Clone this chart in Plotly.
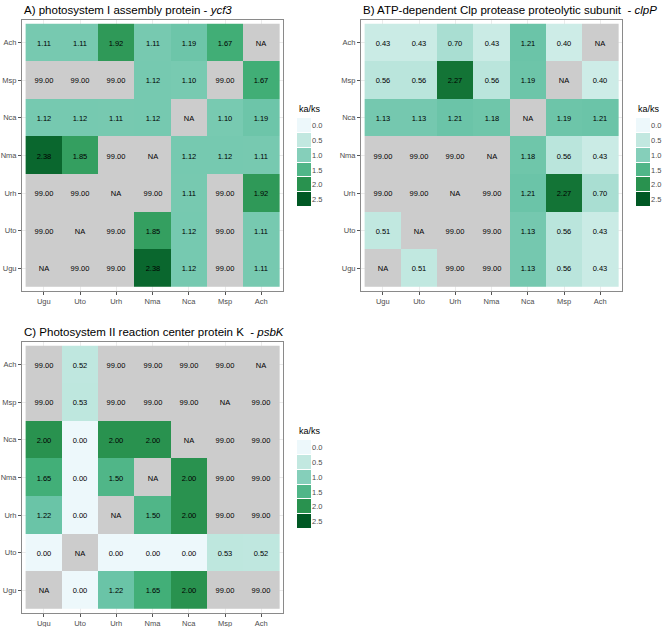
import plotly.graph_objects as go

W, H = 669, 627

species_x = ["Ugu", "Uto", "Urh", "Nma", "Nca", "Msp", "Ach"]
species_y = ["Ugu", "Uto", "Urh", "Nma", "Nca", "Msp", "Ach"]  # bottom -> top
NA = None

# rows listed from top (Ach) to bottom (Ugu), columns Ugu..Ach
ycf3 = [
    [1.11, 1.11, 1.92, 1.11, 1.19, 1.67, NA],
    [99.00, 99.00, 99.00, 1.12, 1.10, 99.00, 1.67],
    [1.12, 1.12, 1.11, 1.12, NA, 1.10, 1.19],
    [2.38, 1.85, 99.00, NA, 1.12, 1.12, 1.11],
    [99.00, 99.00, NA, 99.00, 1.11, 99.00, 1.92],
    [99.00, NA, 99.00, 1.85, 1.12, 99.00, 1.11],
    [NA, 99.00, 99.00, 2.38, 1.12, 99.00, 1.11],
]
clpP = [
    [0.43, 0.43, 0.70, 0.43, 1.21, 0.40, NA],
    [0.56, 0.56, 2.27, 0.56, 1.19, NA, 0.40],
    [1.13, 1.13, 1.21, 1.18, NA, 1.19, 1.21],
    [99.00, 99.00, 99.00, NA, 1.18, 0.56, 0.43],
    [99.00, 99.00, NA, 99.00, 1.21, 2.27, 0.70],
    [0.51, NA, 99.00, 99.00, 1.13, 0.56, 0.43],
    [NA, 0.51, 99.00, 99.00, 1.13, 0.56, 0.43],
]
psbK = [
    [99.00, 0.52, 99.00, 99.00, 99.00, 99.00, NA],
    [99.00, 0.53, 99.00, 99.00, 99.00, NA, 99.00],
    [2.00, 0.00, 2.00, 2.00, NA, 99.00, 99.00],
    [1.65, 0.00, 1.50, NA, 2.00, 99.00, 99.00],
    [1.22, 0.00, NA, 1.50, 2.00, 99.00, 99.00],
    [0.00, NA, 0.00, 0.00, 0.00, 0.53, 0.52],
    [NA, 0.00, 1.22, 1.65, 2.00, 99.00, 99.00],
]

legend_breaks = [0.0, 0.5, 1.0, 1.5, 2.0, 2.5]

titles = [
    "A) photosystem I assembly protein - <i>ycf3</i>",
    "B) ATP-dependent Clp protease proteolytic subunit  - <i>clpP</i>",
    "C) Photosystem II reaction center protein K  - <i>psbK</i>",
]

# BuGn (7) as used by scale_fill_distiller, limits 0..2.5
bugn = ["#edf8fb", "#ccece6", "#99d8c9", "#66c2a4", "#41ae76", "#238b45", "#005824"]
colorscale = [[i / (len(bugn) - 1), c] for i, c in enumerate(bugn)]
LIMITS = (0, 2.5)
NA_GREY = "#cccccc"
FONT = "Liberation Sans"


def px_x(p):
    return p / W


def px_y(p):
    return 1 - p / H


# panel boxes in pixels: (left, right, top, bottom)
panels = [(22, 283, 20, 291), (361, 622, 20, 291), (22, 283, 342, 613)]
legends = [(297, 311, 118, 207), (636, 650, 118, 207), (297, 311, 440, 529)]

fig = go.Figure()
layout = {}
annotations = []

for k, (data, title) in enumerate(zip([ycf3, clpP, psbK], titles)):
    rows = data[::-1]  # bottom -> top
    z_in, z_na, t_in, t_na = [], [], [], []
    for row in rows:
        zi, zn, ti, tn = [], [], [], []
        for v in row:
            if v is None or v > LIMITS[1]:
                zi.append(None)
                ti.append("")
                zn.append(1)
                tn.append("NA" if v is None else f"{v:.2f}")
            else:
                zi.append(v)
                ti.append(f"{v:.2f}")
                zn.append(None)
                tn.append("")
        z_in.append(zi)
        z_na.append(zn)
        t_in.append(ti)
        t_na.append(tn)

    n = k + 1
    xa = "x" if n == 1 else f"x{n}"
    ya = "y" if n == 1 else f"y{n}"
    fig.add_trace(go.Heatmap(
        z=z_na, x=species_x, y=species_y, text=t_na, texttemplate="%{text}",
        textfont=dict(color="black", size=7.5, family=FONT),
        colorscale=[[0, NA_GREY], [1, NA_GREY]], showscale=False,
        hoverinfo="skip", xaxis=xa, yaxis=ya,
    ))
    fig.add_trace(go.Heatmap(
        z=z_in, x=species_x, y=species_y, text=t_in, texttemplate="%{text}",
        textfont=dict(color="black", size=7.5, family=FONT),
        colorscale=colorscale, zmin=LIMITS[0], zmax=LIMITS[1], showscale=False,
        xaxis=xa, yaxis=ya,
    ))

    l, r, t, b = panels[k]
    axis_common = dict(
        type="category", range=[-0.6, 6.6], showline=True, mirror=True,
        linecolor="#8a8a8a", linewidth=1, ticks="outside", ticklen=3,
        tickcolor="#555555", tickfont=dict(size=7.5, color="#4d4d4d", family=FONT),
        showgrid=True, gridcolor="#ebebeb", zeroline=False, fixedrange=True,
        automargin=False,
    )
    layout[f"xaxis{'' if n == 1 else n}"] = dict(
        axis_common, domain=[px_x(l), px_x(r)], anchor=ya,
        categoryorder="array", categoryarray=species_x,
    )
    layout[f"yaxis{'' if n == 1 else n}"] = dict(
        axis_common, domain=[px_y(b), px_y(t)], anchor=xa,
        categoryorder="array", categoryarray=species_y,
    )
    annotations.append(dict(
        text=title, x=px_x(l), y=px_y(t - 10), xref="paper", yref="paper",
        xanchor="left", yanchor="middle", showarrow=False,
        font=dict(size=11.5, color="black", family=FONT),
    ))

    # legend as a small keyed heatmap
    m = n + 3
    lxa, lya = f"x{m}", f"y{m}"
    ll, lr, lt, lb = legends[k]
    fig.add_trace(go.Heatmap(
        z=[[v] for v in legend_breaks], x=[0], y=list(range(len(legend_breaks))),
        colorscale=colorscale, zmin=LIMITS[0], zmax=LIMITS[1], showscale=False,
        ygap=1, hoverinfo="skip", xaxis=lxa, yaxis=lya,
    ))
    layout[f"xaxis{m}"] = dict(
        domain=[px_x(ll), px_x(lr)], anchor=lya, showticklabels=False,
        showgrid=False, zeroline=False, range=[-0.5, 0.5], fixedrange=True,
        automargin=False,
    )
    layout[f"yaxis{m}"] = dict(
        domain=[px_y(lb), px_y(lt)], anchor=lxa, side="right",
        range=[len(legend_breaks) - 0.5, -0.5], showgrid=False, zeroline=False,
        tickmode="array", tickvals=list(range(len(legend_breaks))),
        ticktext=[f"{v:.1f}" for v in legend_breaks], ticks="",
        tickfont=dict(size=7.5, color="#4d4d4d", family=FONT), fixedrange=True,
        automargin=False,
    )
    annotations.append(dict(
        text="ka/ks", x=px_x(ll), y=px_y(lt - 9), xref="paper", yref="paper",
        xanchor="left", yanchor="middle", showarrow=False,
        font=dict(size=9, color="black", family=FONT),
    ))

fig.update_layout(
    width=W, height=H, margin=dict(l=0, r=0, t=0, b=0, autoexpand=False),
    paper_bgcolor="white", plot_bgcolor="white",
    annotations=annotations, font=dict(family=FONT), **layout,
)

# page body has a default 8px margin; remove it so the figure sits at 0,0
fig.write_html(
    "out.html",
    config={"displayModeBar": False},
    post_script="document.body.style.margin='0';",
)
